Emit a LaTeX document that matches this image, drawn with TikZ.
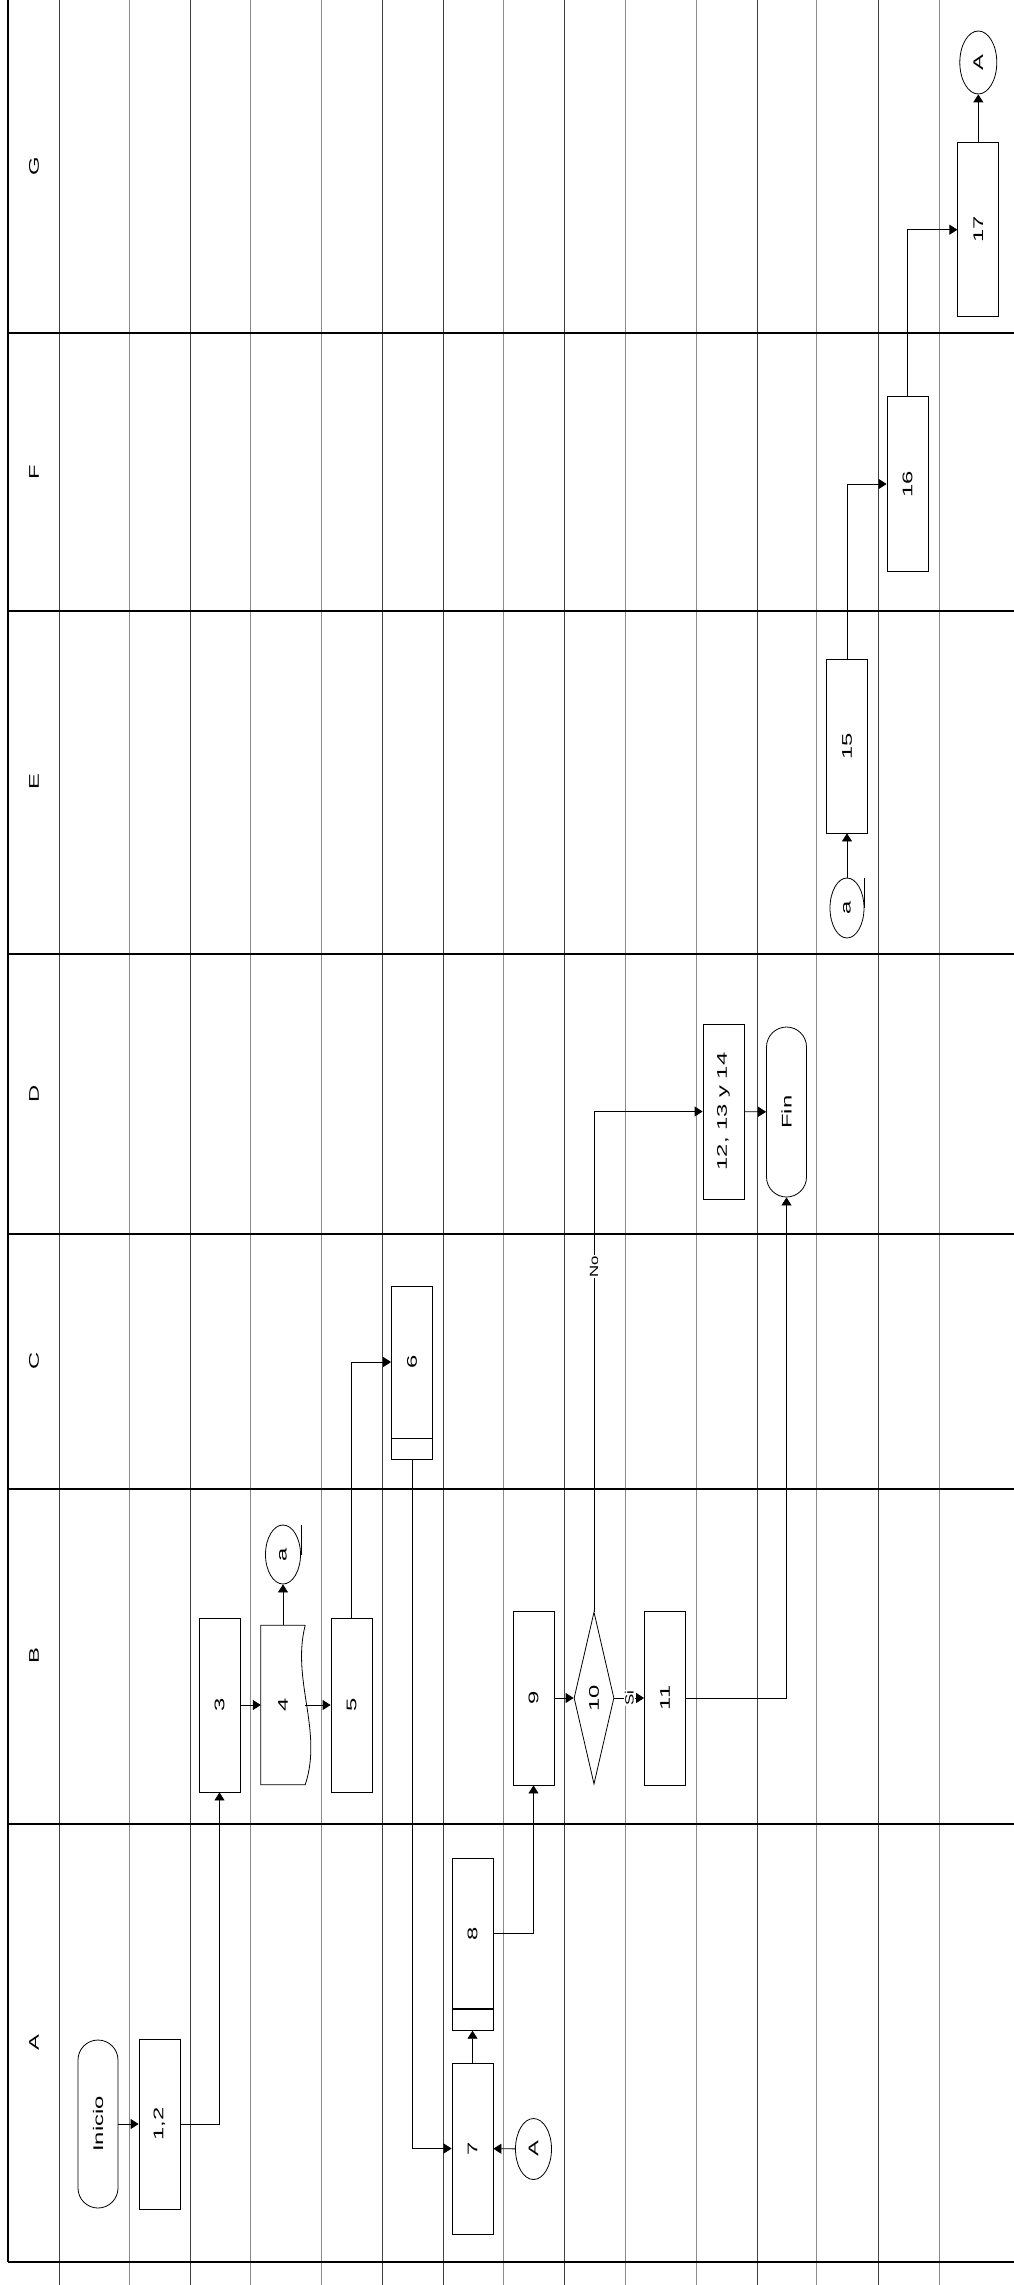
\documentclass[tikz,border=0pt]{standalone}
\usepackage{fontspec}
\setmainfont{Liberation Sans}
\usepackage{graphicx}
\usetikzlibrary{shapes.geometric,arrows.meta,positioning,calc}

% rotated, stretched text as in the scanned chart
\newcommand{\vtxt}[1]{\rotatebox{90}{\scalebox{1.7}[1]{#1}}}
\newcommand{\vlbl}[1]{\rotatebox{90}{\scalebox{1.4}[1]{#1}}}

\begin{document}
\begin{tikzpicture}[x=1pt, y=1pt,
    proc/.style={rectangle, draw=black, line width=0.8pt, fill=white, minimum width=41pt, minimum height=174pt, inner sep=0pt, font=\fontsize{14}{16}\selectfont},
    strip/.style={rectangle, draw=black, line width=0.8pt, fill=white, minimum width=41pt, minimum height=21pt, inner sep=0pt},
    term/.style={rectangle, rounded corners=20pt, draw=black, line width=0.8pt, fill=white, minimum width=40pt, minimum height=168pt, inner sep=0pt, font=\fontsize{14}{16}\selectfont},
    dec/.style={diamond, shape aspect=0.25, draw=black, line width=0.8pt, fill=white, minimum width=40pt, minimum height=172pt, inner sep=0pt, font=\fontsize{14}{16}\selectfont},
    conn/.style={ellipse, draw=black, line width=0.8pt, fill=white, minimum width=36pt, minimum height=61pt, inner sep=0pt, font=\fontsize{14}{16}\selectfont},
    docbox/.style={rectangle, draw=none, minimum width=44pt, minimum height=159pt, inner sep=0pt, font=\fontsize{14}{16}\selectfont},
    lanelbl/.style={font=\fontsize{14}{16}\selectfont, inner sep=0pt},
    arr/.style={-{Triangle[length=8pt, width=10pt]}, line width=0.8pt},
    elbl/.style={fill=white, inner sep=1pt, font=\fontsize{12}{14}\selectfont},
    lane/.style={line width=1.6pt, black},
  ]
    \useasboundingbox (0,0) rectangle (1014,-2285);

    % Swimlane grid
    \foreach \x in {59.5,190,382,443,564,757,878}
      \draw[line width=0.8pt, black!75] (\x,0) -- (\x,-2285);
    \foreach \x in {129,250,321,503,625,696,816,939}
      \draw[line width=0.8pt, black!45] (\x,0) -- (\x,-2285);
    \foreach \y in {333,611,954,1234,1489,1824,2262}
      \draw[lane] (8,-\y) -- (1014,-\y);
    \draw[lane] (8,0) -- (8,-2262);

    % Lane names
    \foreach \l/\y in {G/166, F/472, E/782, D/1094, C/1361, B/1656, A/2043}
      \node[lanelbl] (lane\l) at (34,-\y) {\vtxt{\l}};

    % Steps
    \node[term] (inicio) at (98,-2124) {\vtxt{Inicio}};
    \node[proc, minimum height=170pt] (p12) at (159.5,-2124) {\vtxt{1,2}};
    \node[proc] (p3) at (219.5,-1705) {\vtxt{3}};
    \node[docbox] (p4) at (283,-1705) {\vtxt{4}};
    \node[conn, minimum width=35pt, minimum height=59pt] (ca1) at (283,-1554.5) {\vtxt{a}};
    \node[proc] (p5) at (351.5,-1705) {\vtxt{5}};
    \node[proc, minimum height=152pt] (p6) at (412,-1362) {\vtxt{6}};
    \node[strip, below=0pt of p6] (p6s) {};
    \node[proc, minimum height=171pt] (p7) at (472.5,-2148.5) {\vtxt{7}};
    \node[proc, minimum height=150pt] (p8) at (472.5,-1933.5) {\vtxt{8}};
    \node[strip, below=0pt of p8] (p8s) {};
    \node[conn] (cA1) at (533.5,-2149) {\vtxt{A}};
    \node[proc] (p9) at (533.5,-1698) {\vtxt{9}};
    \node[dec] (p10) at (594,-1698) {\vtxt{10}};
    \node[proc] (p11) at (665,-1698) {\vtxt{11}};
    \node[proc, minimum height=175pt] (p1214) at (723.5,-1111.5) {\vtxt{12, 13 y 14}};
    \node[term, minimum height=170pt] (fin) at (786.5,-1112) {\vtxt{Fin}};
    \node[conn, minimum width=34pt, minimum height=60pt] (ca2) at (847,-908) {\vtxt{a}};
    \node[proc] (p15) at (847,-746) {\vtxt{15}};
    \node[proc, minimum height=175pt] (p16) at (907.5,-484) {\vtxt{16}};
    \node[proc] (p17) at (978.3,-229.7) {\vtxt{17}};
    \node[conn, minimum width=37pt, minimum height=63pt] (cA2) at (978.3,-62.5) {\vtxt{A}};

    % Document outline for 4
    \draw[line width=0.8pt] (p4.north east) -- (p4.north west) -- (p4.south west) -- (p4.south east)
      .. controls ($(p4.south east)+(18,54)$) and ($(p4.north east)+(-14,-55)$) .. (p4.north east);

    % Connector tails
    \draw[line width=0.8pt] (ca1.east |- ca1.north) -- (ca1.east);
    \draw[line width=0.8pt] (ca2.east |- ca2.north) -- (ca2.east);

    % Flow
    \draw[arr] (inicio) -- (p12);
    \draw[arr] (p12.east) -| (p3.south);
    \draw[arr] (p3) -- (p4);
    \draw[arr] (p4.north) -- (ca1.south);
    \draw[arr] (p4) -- (p5);
    \draw[arr] (p5.north) |- (p6.west);
    \draw[arr] (p6s.south) |- (p7.west);
    \draw[arr] (cA1) -- (p7);
    \draw[arr] (p7) -- (p8s);
    \draw[arr] (p8.east) -| (p9.south);
    \draw[arr] (p9) -- (p10);
    \draw[arr] (p10) -- node[elbl] {\vlbl{Si}} (p11);
    \draw[arr] (p10.north) |- node[elbl, pos=0.345] {\vlbl{No}} (p1214.west);
    \draw[arr] (p1214) -- (fin);
    \draw[arr] (p11.east) -| (fin.south);
    \draw[arr] (ca2) -- (p15);
    \draw[arr] (p15.north) |- (p16.west);
    \draw[arr] (p16.north) |- (p17.west);
    \draw[arr] (p17) -- (cA2);

  \end{tikzpicture}
\end{document}
